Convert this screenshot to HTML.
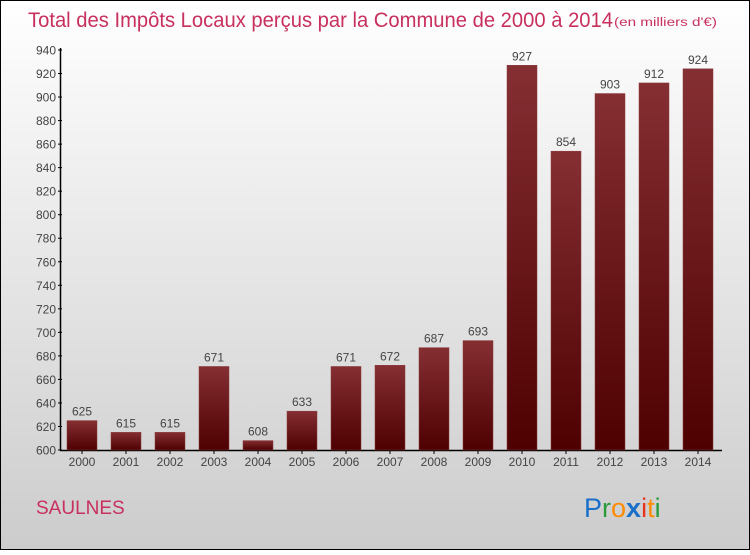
<!DOCTYPE html>
<html><head><meta charset="utf-8"><style>
html,body{margin:0;padding:0}
body{width:750px;height:550px;overflow:hidden;font-family:"Liberation Sans",sans-serif}
</style></head><body>
<svg width="750" height="550" xmlns="http://www.w3.org/2000/svg">
<defs>
<linearGradient id="bg" x1="0" y1="0" x2="0" y2="1"><stop offset="0" stop-color="#ffffff"/><stop offset="1" stop-color="#cccccc"/></linearGradient>
<linearGradient id="bar" x1="0" y1="0" x2="0" y2="1"><stop offset="0" stop-color="#852f33"/><stop offset="1" stop-color="#4e0000"/></linearGradient>
</defs>
<rect x="0.5" y="0.5" width="749" height="549" fill="url(#bg)" stroke="#000"/>
<text x="28" y="27" font-size="21" fill="#c8305e" textLength="585" lengthAdjust="spacingAndGlyphs">Total des Impôts Locaux perçus par la Commune de 2000 à 2014</text>
<text x="614" y="26" font-size="11.5" fill="#c8305e" textLength="103" lengthAdjust="spacingAndGlyphs">(en milliers d'€)</text>
<g id="axes"></g>
<g id="bars"></g>
<text x="36" y="514" font-size="19" fill="#c8305e">SAULNES</text>
<g font-size="27" font-family="'Liberation Sans',sans-serif">
<text x="584" y="517"><tspan fill="#1a6fc9">P</tspan><tspan fill="#2a9a3a">r</tspan><tspan fill="#ff8c00">o</tspan><tspan fill="#1a6fc9" font-weight="bold">x</tspan><tspan fill="#e8321e">i</tspan><tspan fill="#ff8c00">t</tspan><tspan fill="#2a9a3a">i</tspan></text>
</g>
</svg>
<script>
const years=["2000","2001","2002","2003","2004","2005","2006","2007","2008","2009","2010","2011","2012","2013","2014"];
const values=[625,615,615,671,608,633,671,672,687,693,927,854,903,912,924];
const yTicks=[600,620,640,660,680,700,720,740,760,780,800,820,840,860,880,900,920,940];
const NS="http://www.w3.org/2000/svg";
const y0=450,y1=50,vmin=600,vmax=940;
function yScale(v){return y0-(v-vmin)*(y0-y1)/(vmax-vmin);}
function xScale(i){return 82+i*44;}
function el(t,a,p,txt){const e=document.createElementNS(NS,t);for(const k in a)e.setAttribute(k,a[k]);if(txt!=null)e.textContent=txt;p.appendChild(e);return e;}
const ax=document.getElementById('axes'),bg=document.getElementById('bars');
let l=el('line',{x1:60.5,y1:y1-2,x2:60.5,y2:y0,stroke:'#000','stroke-width':1.5},ax);


l=el('line',{x1:60,y1:y0+0.5,x2:722,y2:y0+0.5,stroke:'#000','stroke-width':1.5},ax);


yTicks.forEach(v=>{const y=yScale(v);
el('line',{x1:58,x2:62,y1:y,y2:y,stroke:'#000'},ax);
const t=el('text',{x:56,y:y+4.5,'font-size':12,fill:'#444','text-anchor':'end'},ax,String(v));

});
years.forEach((yr,i)=>{const cx=xScale(i),v=values[i],y=yScale(v);
const r=el('rect',{x:cx-15,y:y,width:30,height:y0-y,fill:'url(#bar)',stroke:'#8a3a3e','stroke-width':0.5},bg);


const vt=el('text',{x:cx,y:y-5,'font-size':12,fill:'#444','text-anchor':'middle'},bg,String(v));


el('line',{x1:cx,x2:cx,y1:y0,y2:y0+4,stroke:'#000'},ax);
const xt=el('text',{x:cx,y:466,'font-size':12,fill:'#444','text-anchor':'middle'},ax,yr);

});
</script>
</body></html>
